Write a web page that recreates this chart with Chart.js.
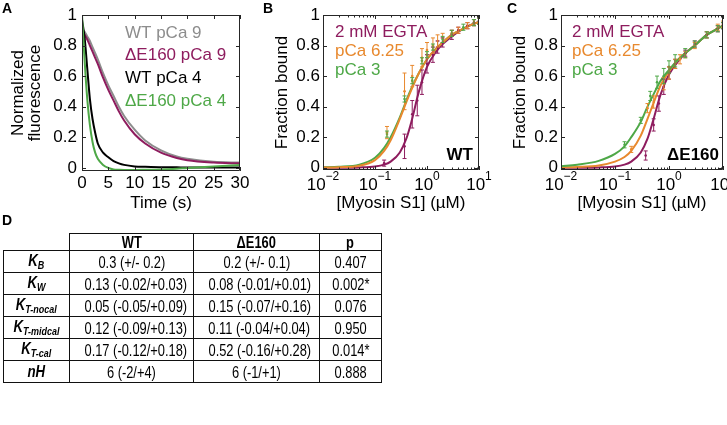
<!DOCTYPE html>
<html>
<head>
<meta charset="utf-8">
<script src="https://cdn.jsdelivr.net/npm/chart.js@4.4.1/dist/chart.umd.min.js"></script>
<style>
body { margin: 0; background: #fff; }
#page { position: relative; width: 727px; height: 425px; overflow: hidden; background: #fff; font-family: 'Liberation Sans', Arial, sans-serif; }
canvas { position: absolute; top: 0; }
.panel { position: absolute; font-weight: bold; font-size: 14px; line-height: 16px; }
#tbl { position: absolute; left: 3px; top: 233px; width: 378px; border-collapse: collapse; table-layout: fixed;
  font-family: 'Liberation Sans', Arial, sans-serif; font-size: 16.5px; color: #000; }
#tbl td { border: 1.5px solid #111; text-align: center; padding: 0; height: 21px; line-height: 16px; white-space: nowrap; overflow: visible; }
#tbl td span { display: inline-block; transform: scaleX(0.78); }
#tbl tr.head td { height: 15px; font-weight: bold; }
#tbl tr.head td.blank { border-top: none; border-left: none; }
#tbl td.name { font-weight: bold; font-style: italic; font-size: 17px; }
#tbl td.name sub { font-size: 11.5px; vertical-align: -3px; line-height: 10px; }
</style>
</head>
<body>
<div id="page">
  <canvas id="chartA" width="262" height="215" style="left:0px"></canvas>
  <canvas id="chartB" width="260" height="215" style="left:240px"></canvas>
  <canvas id="chartC" width="247" height="215" style="left:480px"></canvas>
  <div class="panel" style="left:2px;top:0px">A</div>
  <div class="panel" style="left:263px;top:0px">B</div>
  <div class="panel" style="left:507px;top:0px">C</div>
  <div class="panel" style="left:2px;top:212px">D</div>
  <table id="tbl">
    <colgroup><col style="width:66px"><col style="width:124px"><col style="width:126px"><col style="width:62px"></colgroup>
  </table>
</div>
<script>
// panel A: stopped-flow traces
var timeA = [0, 0.5, 1, 1.5, 2, 2.5, 3, 4, 5, 6, 7, 8, 10, 12, 15, 18, 20, 25, 30];
var wtPca9 = [0.91, 0.89, 0.86, 0.83, 0.79, 0.75, 0.71, 0.62, 0.54, 0.47, 0.40, 0.34, 0.25, 0.18, 0.115, 0.075, 0.06, 0.04, 0.035];
var e160Pca9 = [0.89, 0.87, 0.84, 0.80, 0.76, 0.72, 0.68, 0.59, 0.51, 0.44, 0.37, 0.31, 0.22, 0.16, 0.10, 0.065, 0.05, 0.035, 0.03];
var wtPca4 = [0.97, 0.85, 0.65, 0.45, 0.32, 0.23, 0.16, 0.10, 0.07, 0.045, 0.03, 0.02, 0.01, 0.007, 0.005, 0.004, 0.003, 0.003, 0.003];
var e160Pca4 = [1.0, 0.70, 0.45, 0.28, 0.17, 0.10, 0.06, 0.02, 0.0, -0.01, -0.012, -0.013, -0.013, -0.012, -0.01, -0.005, 0.0, 0.01, 0.02];
var xTicksA = [0, 5, 10, 15, 20, 25, 30];
var yTicks = [0, 0.2, 0.4, 0.6, 0.8, 1];
var xTicksLog = [0.01, 0.1, 1, 10];

// panels B and C: fitted binding curves
var fitX = [0.01, 0.02, 0.05, 0.1, 0.15, 0.2, 0.3, 0.4, 0.5, 0.7, 1, 1.5, 2, 3, 5, 7, 10];
var wtEgtaFit = [0, 0, 0.002, 0.008, 0.02, 0.04, 0.1, 0.19, 0.3, 0.5, 0.66, 0.76, 0.81, 0.86, 0.91, 0.935, 0.955];
var wtMidFit = [0.001, 0.003, 0.013, 0.05, 0.11, 0.18, 0.32, 0.43, 0.51, 0.62, 0.71, 0.78, 0.82, 0.87, 0.91, 0.935, 0.955];
var wtHighFit = [0.003, 0.006, 0.02, 0.065, 0.13, 0.2, 0.33, 0.44, 0.52, 0.62, 0.71, 0.78, 0.82, 0.87, 0.91, 0.935, 0.955];
var mutEgtaFit = [0, 0, 0.002, 0.008, 0.02, 0.04, 0.1, 0.19, 0.3, 0.48, 0.61, 0.7, 0.75, 0.8, 0.87, 0.9, 0.93];
var mutMidFit = [0.002, 0.005, 0.015, 0.04, 0.07, 0.11, 0.21, 0.32, 0.41, 0.54, 0.63, 0.71, 0.75, 0.8, 0.87, 0.9, 0.93];
var mutHighFit = [0.01, 0.02, 0.045, 0.09, 0.14, 0.2, 0.3, 0.4, 0.47, 0.57, 0.64, 0.71, 0.75, 0.8, 0.87, 0.9, 0.93];

// measured points (mean, error)
var wtEgtaX = [0.15, 0.37, 0.52, 0.65, 0.8, 1.0, 1.3, 1.6, 2, 3, 4, 6, 8, 10];
var wtEgtaY = [0.03, 0.14, 0.35, 0.44, 0.56, 0.68, 0.74, 0.79, 0.82, 0.87, 0.9, 0.93, 0.95, 0.96];
var wtEgtaE = [0.02, 0.08, 0.09, 0.1, 0.08, 0.06, 0.05, 0.04, 0.03, 0.03, 0.02, 0.02, 0.02, 0.02];
var wtMidX = [0.17, 0.37, 0.52, 0.8, 1.0, 1.3, 1.6, 2, 3, 4, 6, 8, 10];
var wtMidY = [0.23, 0.5, 0.6, 0.72, 0.77, 0.8, 0.83, 0.85, 0.88, 0.9, 0.93, 0.95, 0.96];
var wtMidE = [0.04, 0.12, 0.07, 0.06, 0.05, 0.05, 0.04, 0.03, 0.02, 0.02, 0.02, 0.02, 0.02];
var wtHighX = [0.17, 0.37, 0.52, 0.8, 1, 1.3, 2, 3, 5, 8, 10];
var wtHighY = [0.22, 0.45, 0.57, 0.7, 0.74, 0.79, 0.84, 0.88, 0.92, 0.95, 0.96];
var wtHighE = [0.02, 0.02, 0.02, 0.02, 0.02, 0.02, 0.02, 0.02, 0.02, 0.02, 0.02];
var mutEgtaX = [0.37, 0.52, 0.65, 0.8, 1.0, 1.3, 2, 3, 5, 8, 10];
var mutEgtaY = [0.08, 0.28, 0.42, 0.53, 0.62, 0.68, 0.75, 0.81, 0.87, 0.91, 0.93];
var mutEgtaE = [0.03, 0.04, 0.05, 0.05, 0.04, 0.03, 0.02, 0.02, 0.02, 0.02, 0.02];
var mutMidX = [0.2, 0.4, 0.52, 0.8, 1.0, 1.3, 1.6, 2, 3, 5, 8, 10];
var mutMidY = [0.12, 0.39, 0.43, 0.55, 0.62, 0.68, 0.71, 0.74, 0.8, 0.87, 0.92, 0.94];
var mutMidE = [0.02, 0.03, 0.04, 0.04, 0.04, 0.03, 0.03, 0.02, 0.02, 0.02, 0.02, 0.02];
var mutHighX = [0.15, 0.3, 0.45, 0.6, 0.8, 1.0, 1.3, 2, 3, 5, 8, 10];
var mutHighY = [0.15, 0.31, 0.47, 0.56, 0.6, 0.66, 0.7, 0.75, 0.81, 0.87, 0.91, 0.93];
var mutHighE = [0.02, 0.02, 0.03, 0.04, 0.05, 0.04, 0.04, 0.03, 0.02, 0.02, 0.02, 0.02];

// panel D table
var colHeads = ['WT', '\u0394E160', 'p'];
var rowMain = ['K', 'K', 'K', 'K', 'K', 'nH'];
var rowSub = ['B', 'W', 'T-nocal', 'T-midcal', 'T-cal', ''];
var wtVals = ['0.3 (+/- 0.2)', '0.13 (-0.02/+0.03)', '0.05 (-0.05/+0.09)', '0.12 (-0.09/+0.13)', '0.17 (-0.12/+0.18)', '6 (-2/+4)'];
var e160Vals = ['0.2 (+/- 0.1)', '0.08 (-0.01/+0.01)', '0.15 (-0.07/+0.16)', '0.11 (-0.04/+0.04)', '0.52 (-0.16/+0.28)', '6 (-1/+1)'];
var pVals = ['0.407', '0.002*', '0.076', '0.950', '0.014*', '0.888'];

var fontName = "'Liberation Sans', Arial, sans-serif";
var purple = '#8e1c5e';
var orange = '#e8892e';
var green = '#4ea847';
var gray = '#8d8d8d';

function pts(xs, ys) {
    return xs.map(function(x, i) { return {x: x, y: ys[i]}; });
}

// box with inward ticks on all sides, matlab style
var frame = {
    id: 'frame',
    afterDraw: function(chart, args, o) {
        var ctx = chart.ctx, a = chart.chartArea;
        var xs = chart.scales.x, ys = chart.scales.y;
        ctx.save();
        ctx.strokeStyle = '#262626';
        ctx.lineWidth = 1;
        ctx.beginPath();
        ctx.rect(a.left + 0.5, a.top + 0.5, a.right - a.left - 1, a.bottom - a.top - 1);
        o.xTicks.forEach(function(v) {
            var p = Math.round(xs.getPixelForValue(v)) + 0.5;
            ctx.moveTo(p, a.bottom); ctx.lineTo(p, a.bottom - 4);
            ctx.moveTo(p, a.top); ctx.lineTo(p, a.top + 4);
        });
        yTicks.forEach(function(v) {
            var p = Math.round(ys.getPixelForValue(v)) + 0.5;
            ctx.moveTo(a.left, p); ctx.lineTo(a.left + 4, p);
            ctx.moveTo(a.right, p); ctx.lineTo(a.right - 4, p);
        });
        if (o.log) {
            for (var d = 0; d < o.xTicks.length - 1; d++) {
                for (var k = 2; k < 10; k++) {
                    var p = Math.round(xs.getPixelForValue(o.xTicks[d] * k)) + 0.5;
                    ctx.moveTo(p, a.bottom); ctx.lineTo(p, a.bottom - 2.5);
                    ctx.moveTo(p, a.top); ctx.lineTo(p, a.top + 2.5);
                }
            }
        }
        ctx.stroke();
        if (o.log) {
            ctx.fillStyle = '#000';
            ctx.textBaseline = 'middle';
            o.xTicks.forEach(function(v) {
                var ex = String(Math.round(Math.log10(v))).replace('-', '\u2212');
                ctx.font = '17px ' + fontName;
                var w1 = ctx.measureText('10').width;
                ctx.font = '12px ' + fontName;
                var w2 = ctx.measureText(ex).width;
                var x0 = xs.getPixelForValue(v) - (w1 + w2) / 2;
                ctx.font = '17px ' + fontName;
                ctx.fillText('10', x0, a.bottom + 15);
                ctx.font = '12px ' + fontName;
                ctx.fillText(ex, x0 + w1, a.bottom + 7);
            });
        }
        ctx.restore();
    }
};

var notes = {
    id: 'notes',
    afterDraw: function(chart, args, o) {
        var ctx = chart.ctx, a = chart.chartArea;
        ctx.save();
        ctx.textBaseline = 'middle';
        ctx.font = '17px ' + fontName;
        o.items.forEach(function(it, i) {
            ctx.fillStyle = it[1];
            ctx.fillText(it[0], a.left + o.dx, a.top + o.dy + i * o.step);
        });
        if (o.tag) {
            ctx.font = 'bold 17px ' + fontName;
            ctx.textAlign = 'right';
            ctx.fillStyle = '#000';
            ctx.fillText(o.tag, a.right - o.tagDx, a.bottom - 15);
        }
        ctx.restore();
    }
};

var errbars = {
    id: 'errbars',
    afterDatasetsDraw: function(chart) {
        var ctx = chart.ctx, a = chart.chartArea, ys = chart.scales.y;
        ctx.save();
        ctx.beginPath();
        ctx.rect(a.left, a.top, a.right - a.left, a.bottom - a.top);
        ctx.clip();
        chart.data.datasets.forEach(function(ds, i) {
            if (!ds.errs) return;
            var meta = chart.getDatasetMeta(i);
            ctx.strokeStyle = ds.borderColor;
            ctx.lineWidth = 1;
            ctx.beginPath();
            meta.data.forEach(function(el, j) {
                var v = ds.data[j].y, e = ds.errs[j];
                var y1 = ys.getPixelForValue(v - e), y2 = ys.getPixelForValue(v + e);
                ctx.moveTo(el.x, y1); ctx.lineTo(el.x, y2);
                ctx.moveTo(el.x - 2, y1); ctx.lineTo(el.x + 2, y1);
                ctx.moveTo(el.x - 2, y2); ctx.lineTo(el.x + 2, y2);
            });
            ctx.stroke();
        });
        ctx.restore();
    }
};

function lineSet(data, color) {
    return { data: data, borderColor: color, backgroundColor: color, borderWidth: 2, pointRadius: 0,
             showLine: true, fill: false, cubicInterpolationMode: 'monotone' };
}

function dotSet(data, errs, color) {
    return { data: data, errs: errs, borderColor: color, backgroundColor: color, pointRadius: 1.3,
             pointBorderWidth: 0, showLine: false };
}

function makeChart(id, datasets, o) {
    var xAxis = {
        type: o.log ? 'logarithmic' : 'linear', min: o.xMin, max: o.xMax,
        afterBuildTicks: function(s) { s.ticks = o.xTicks.map(function(v) { return {value: v}; }); },
        afterFit: function(s) { s.height = o.xHeight; s.paddingLeft = 0; s.paddingRight = 0; },
        grid: { display: false, drawTicks: false }, border: { display: false },
        ticks: { display: !o.log, color: '#000', font: { family: fontName, size: 17 }, padding: 2, maxRotation: 0, autoSkip: false },
        title: { display: true, text: o.xTitle, color: '#000', font: { family: fontName, size: 17, lineHeight: 1 }, padding: { top: 0, bottom: 3.5 } }
    };
    var yAxis = {
        type: 'linear', min: o.yMin, max: 1,
        afterBuildTicks: function(s) { s.ticks = yTicks.map(function(v) { return {value: v}; }); },
        afterFit: function(s) { s.width = o.yWidth; s.paddingTop = 0; s.paddingBottom = 0; },
        grid: { display: false, drawTicks: false }, border: { display: false },
        ticks: { color: '#000', font: { family: fontName, size: 17 }, padding: o.yTickPad,
                 callback: function(v) { return String(+Number(v).toFixed(2)); } },
        title: { display: true, text: o.yTitle, color: '#000', font: { family: fontName, size: 17, lineHeight: 1 }, padding: { top: o.yTitlePad, bottom: 0 } }
    };
    return new Chart(document.getElementById(id), {
        type: 'scatter',
        data: { datasets: datasets },
        options: {
            responsive: false,
            animation: false,
            layout: { padding: { top: 15, right: o.padRight, left: 0, bottom: 0 } },
            plugins: {
                legend: { display: false },
                tooltip: { enabled: false },
                frame: { xTicks: o.xTicks, log: o.log },
                notes: o.notes
            },
            scales: { x: xAxis, y: yAxis }
        },
        plugins: [errbars, frame, notes]
    });
}

function buildTable() {
    var t = document.getElementById('tbl');
    var html = '<tr class="head"><td class="blank"></td>';
    colHeads.forEach(function(h) { html += '<td><span>' + h + '</span></td>'; });
    html += '</tr>';
    for (var i = 0; i < rowMain.length; i++) {
        html += '<tr><td class="name"><span>' + rowMain[i] + (rowSub[i] ? '<sub>' + rowSub[i] + '</sub>' : '') + '</span></td>';
        html += '<td><span>' + wtVals[i] + '</span></td><td><span>' + e160Vals[i] + '</span></td><td><span>' + pVals[i] + '</span></td></tr>';
    }
    t.insertAdjacentHTML('beforeend', html);
}

window.onload = function() {
    makeChart('chartA', [
        lineSet(pts(timeA, e160Pca4), green),
        lineSet(pts(timeA, wtPca4), '#000'),
        lineSet(pts(timeA, e160Pca9), purple),
        lineSet(pts(timeA, wtPca9), gray)
    ], {
        log: false, xMin: 0, xMax: 30, xTicks: xTicksA, yMin: -0.02,
        xHeight: 44, yWidth: 82, padRight: 22, yTickPad: 5, yTitlePad: 9.5,
        xTitle: 'Time (s)', yTitle: ['Normalized', 'fluorescence'],
        notes: { dx: 43, dy: 18, step: 22.7, items: [['WT pCa 9', gray], ['\u0394E160 pCa 9', purple], ['WT pCa 4', '#000'], ['\u0394E160 pCa 4', green]] }
    });

    makeChart('chartB', [
        dotSet(pts(wtEgtaX, wtEgtaY), wtEgtaE, purple),
        dotSet(pts(wtMidX, wtMidY), wtMidE, orange),
        dotSet(pts(wtHighX, wtHighY), wtHighE, green),
        lineSet(pts(fitX, wtMidFit), orange),
        lineSet(pts(fitX, wtHighFit), green),
        lineSet(pts(fitX, wtEgtaFit), purple)
    ], {
        log: true, xMin: 0.01, xMax: 10, xTicks: xTicksLog, yMin: -0.015,
        xHeight: 45, yWidth: 83, padRight: 21, yTickPad: 3, yTitlePad: 33.5,
        xTitle: '[Myosin S1] (\u00b5M)', yTitle: 'Fraction bound',
        notes: { dx: 12, dy: 17, step: 19, items: [['2 mM EGTA', purple], ['pCa 6.25', orange], ['pCa 3', green]], tag: 'WT', tagDx: 6 }
    });

    makeChart('chartC', [
        dotSet(pts(mutEgtaX, mutEgtaY), mutEgtaE, purple),
        dotSet(pts(mutMidX, mutMidY), mutMidE, orange),
        dotSet(pts(mutHighX, mutHighY), mutHighE, green),
        lineSet(pts(fitX, mutHighFit), green),
        lineSet(pts(fitX, mutMidFit), orange),
        lineSet(pts(fitX, mutEgtaFit), purple)
    ], {
        log: true, xMin: 0.01, xMax: 10, xTicks: xTicksLog, yMin: -0.015,
        xHeight: 45, yWidth: 81, padRight: 3, yTickPad: 3, yTitlePad: 31.5,
        xTitle: '[Myosin S1] (\u00b5M)', yTitle: 'Fraction bound',
        notes: { dx: 11, dy: 17, step: 19, items: [['2 mM EGTA', purple], ['pCa 6.25', orange], ['pCa 3', green]], tag: '\u0394E160', tagDx: 4 }
    });

    buildTable();
};
</script>
</body>
</html>
